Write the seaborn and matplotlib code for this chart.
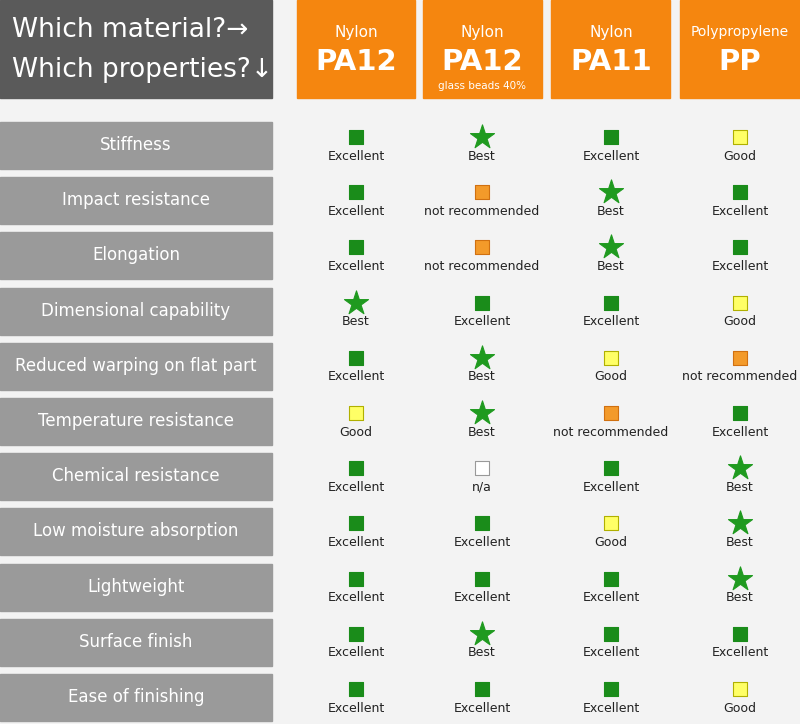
import matplotlib
matplotlib.use("Agg")
import matplotlib.pyplot as plt
from matplotlib.patches import Rectangle
import seaborn as sns
import pandas as pd

properties = ["Stiffness", "Impact resistance", "Elongation", "Dimensional capability",
              "Reduced warping on flat part", "Temperature resistance", "Chemical resistance",
              "Low moisture absorption", "Lightweight", "Surface finish", "Ease of finishing"]
mat_top = ["Nylon", "Nylon", "Nylon", "Polypropylene"]
mat_name = ["PA12", "PA12", "PA11", "PP"]
mat_sub = ["", "glass beads 40%", "", ""]
pa12 = ["Excellent", "Excellent", "Excellent", "Best", "Excellent", "Good", "Excellent", "Excellent", "Excellent", "Excellent", "Excellent"]
pa12gb = ["Best", "not recommended", "not recommended", "Excellent", "Best", "Best", "n/a", "Excellent", "Excellent", "Best", "Excellent"]
pa11 = ["Excellent", "Best", "Best", "Excellent", "Good", "not recommended", "Excellent", "Good", "Excellent", "Excellent", "Excellent"]
pp = ["Good", "Excellent", "Excellent", "Good", "not recommended", "Excellent", "Best", "Best", "Best", "Excellent", "Good"]
ratings = [pa12, pa12gb, pa11, pp]

style = {"Best": ("*", "#1f9a1f", "#1f9a1f", 330),
         "Excellent": ("s", "#1a8c1a", "#1a8c1a", 110),
         "Good": ("s", "#ffff66", "#b0b000", 110),
         "not recommended": ("s", "#f39a2a", "#d07010", 110),
         "n/a": ("s", "#ffffff", "#999999", 110)}

fig = plt.figure(figsize=(8, 7.24), dpi=100, facecolor="#f3f3f3")
ax = fig.add_axes([0, 0, 1, 1])
ax.set_xlim(0, 800); ax.set_ylim(724, 0); ax.axis("off")
ax.set_facecolor("#f3f3f3")

# header
ax.add_patch(Rectangle((0, 0), 272, 98, color="#5a5a5a"))
ax.text(12, 30, "Which material?\u2192", color="white", fontsize=19, va="center", ha="left")
ax.text(12, 70, "Which properties?\u2193", color="white", fontsize=19, va="center", ha="left")
col_x = [356, 482, 611, 740]
col_l = [297, 423, 551, 680]
col_w = [118, 119, 119, 120]
for i in range(4):
    ax.add_patch(Rectangle((col_l[i], 0), col_w[i], 98, color="#f5860f"))
    ax.text(col_x[i], 32, mat_top[i], color="white", fontsize=11 if i < 3 else 10, ha="center", va="center")
    ax.text(col_x[i], 62, mat_name[i], color="white", fontsize=21, fontweight="bold", ha="center", va="center")
    if mat_sub[i]:
        ax.text(col_x[i], 86, mat_sub[i], color="white", fontsize=7.5, ha="center", va="center")

row0, pitch = 145, 55.2
rows = []
for r, prop in enumerate(properties):
    yc = row0 + r * pitch
    ax.add_patch(Rectangle((0, yc - 23), 272, 47, color="#9a9a9a"))
    ax.text(136, yc, prop, color="white", fontsize=12, ha="center", va="center")
    for c in range(4):
        rt = ratings[c][r]
        rows.append({"x": col_x[c], "y": yc - 8, "rating": rt})
        ax.text(col_x[c], yc + 11, rt, fontsize=9, ha="center", va="center", color="#222222")

df = pd.DataFrame(rows)
for rt, (m, fc, ec, s) in style.items():
    sub = df[df.rating == rt]
    if len(sub):
        sns.scatterplot(data=sub, x="x", y="y", marker=m, s=s, color=fc, edgecolor=ec,
                        linewidth=0.8, ax=ax, legend=False, zorder=3)
ax.set_xlim(0, 800); ax.set_ylim(724, 0)
fig.savefig("out.png", dpi=100, facecolor=fig.get_facecolor())
